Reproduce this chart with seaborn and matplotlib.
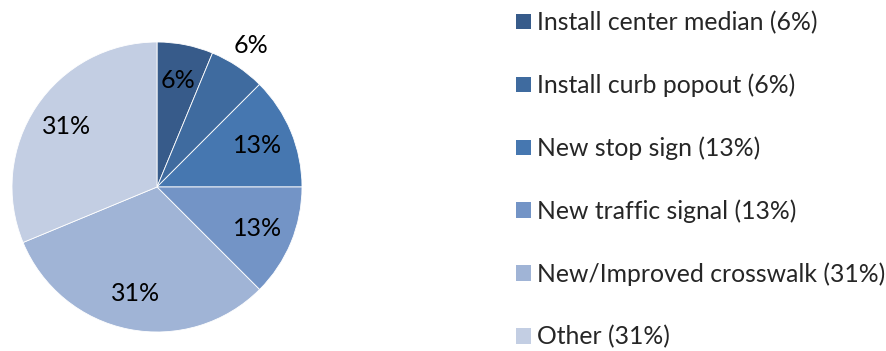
import math
import matplotlib
matplotlib.use("Agg")
import matplotlib.pyplot as plt
from matplotlib.patches import Patch
import seaborn as sns

categories = ["Install center median", "Install curb popout", "New stop sign",
              "New traffic signal", "New/Improved crosswalk", "Other"]
counts = [1, 1, 2, 2, 5, 5]
pct_labels = ["6%", "6%", "13%", "13%", "31%", "31%"]
colors = ["#375B8A", "#3F6B9F", "#4677B0", "#7394C6", "#A0B4D6", "#C3CEE3"]

sns.set_style("white")
plt.rcParams["font.family"] = ["Lato", "DejaVu Sans"]

palette = sns.color_palette(colors)

fig = plt.figure(figsize=(8.87, 3.51), dpi=100)
W, H = 887, 351
cx, cy, r = 157, 187, 145
ax = fig.add_axes([(cx - r) / W, (H - cy - r) / H, 2 * r / W, 2 * r / H])

wedges, _ = ax.pie(counts, colors=palette, startangle=90, counterclock=False,
                   radius=1, wedgeprops=dict(edgecolor="white", linewidth=0.6))

# percentage labels: inside each wedge, except the second small one sits outside
total = sum(counts)
angle = 90.0
for i, (c, lab) in enumerate(zip(counts, pct_labels)):
    span = 360.0 * c / total
    mid = angle - span / 2
    angle -= span
    dist = 1.17 if i == 1 else 0.75
    x = dist * math.cos(math.radians(mid))
    y = dist * math.sin(math.radians(mid))
    ax.text(x, y, lab, ha="center", va="center", fontsize=18, color="black")

ax.set_xlim(-1, 1)
ax.set_ylim(-1, 1)
ax.set_aspect("equal")
ax.axis("off")

handles = [Patch(facecolor=col, edgecolor="none",
                 label=f"{cat} ({p})")
           for cat, p, col in zip(categories, pct_labels, palette)]
fig.legend(handles=handles, loc="upper left",
           bbox_to_anchor=(516 / W, 1 - 11 / H), frameon=False,
           fontsize=17.8, handlelength=0.6, handleheight=0.6,
           handletextpad=0.25, labelspacing=1.59, borderaxespad=0,
           borderpad=0)

fig.savefig("out.png", dpi=100, facecolor="white")
